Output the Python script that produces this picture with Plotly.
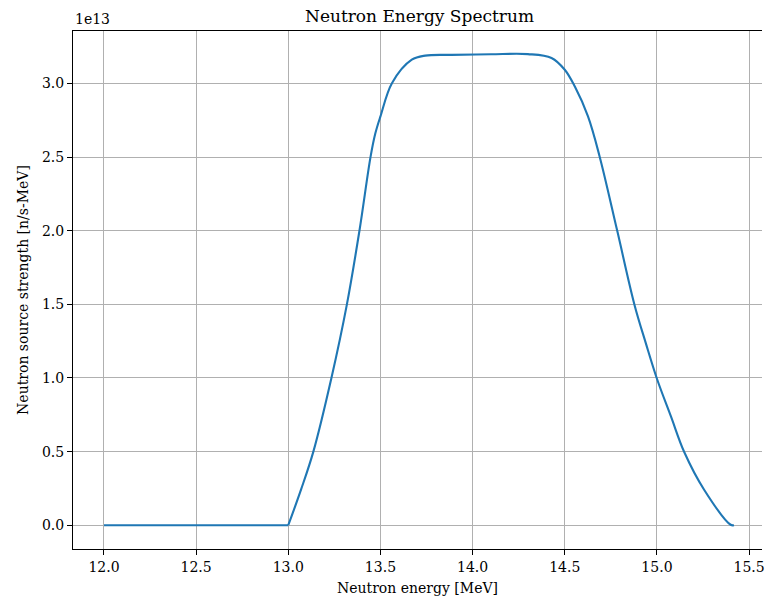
import plotly.graph_objects as go

# Neutron energy [MeV] - flat part
energy_flat = [12.0, 12.5, 13.0]
strength_flat = [0.0, 0.0, 0.0]

# Neutron energy [MeV] - peak part
energy = [13.0, 13.07, 13.136, 13.234, 13.318, 13.386, 13.446, 13.472, 13.5, 13.563,
          13.67, 13.743, 13.887, 14.1, 14.3, 14.428, 14.5, 14.554, 14.626,
          14.689, 14.784, 14.878, 14.94, 15.0, 15.076, 15.148, 15.256, 15.4, 15.418]
# Neutron source strength [1e13 n/s-MeV]
strength = [0.0, 0.245, 0.5, 1.0, 1.5, 2.0, 2.5, 2.66, 2.777, 3.004,
            3.162, 3.19, 3.195, 3.199, 3.2, 3.174, 3.094, 2.981, 2.777,
            2.505, 2.003, 1.498, 1.235, 0.995, 0.739, 0.497, 0.241, 0.003, 0.0]
scale = 1e13
y_ticks = [0.0, 0.5, 1.0, 1.5, 2.0, 2.5, 3.0]
x_ticks = [12.0, 12.5, 13.0, 13.5, 14.0, 14.5, 15.0, 15.5]

FONT = "DejaVu Serif"
LINE = dict(color="#1f77b4", width=2.1)

fig = go.Figure()
fig.add_trace(go.Scatter(
    x=energy_flat, y=[v * scale for v in strength_flat], mode="lines",
    line=LINE, showlegend=False))
fig.add_trace(go.Scatter(
    x=energy, y=[v * scale for v in strength], mode="lines",
    line=dict(**LINE, shape="spline", smoothing=1.0), showlegend=False))

fig.update_layout(
    width=765, height=597,
    margin=dict(l=73, r=0, t=31, b=48),
    paper_bgcolor="white", plot_bgcolor="white",
    font=dict(family=FONT, size=14, color="black"),
    xaxis=dict(
        range=[11.832, 15.570],
        tickvals=x_ticks, ticktext=[f"{t:.1f}" for t in x_ticks],
        ticklabeloverflow="allow",
        showgrid=True, gridcolor="#b0b0b0", gridwidth=1.1,
        zeroline=False,
        showline=True, linecolor="black", linewidth=1.1, mirror=True,
        ticks="outside", ticklen=5, tickwidth=1.1, tickcolor="black",
        title=dict(text="Neutron energy [MeV]", font=dict(size=14), standoff=9),
    ),
    yaxis=dict(
        range=[-0.1616 * scale, 3.357 * scale],
        tickvals=[t * scale for t in y_ticks], ticktext=[f"{t:.1f}" for t in y_ticks],
        showgrid=True, gridcolor="#b0b0b0", gridwidth=1.1,
        zeroline=False,
        showline=True, linecolor="black", linewidth=1.1, mirror=False,
        ticks="outside", ticklen=5, tickwidth=1.1, tickcolor="black",
        title=dict(text="Neutron source strength [n/s-MeV]", font=dict(size=14), standoff=9),
    ),
    annotations=[
        dict(text="Neutron Energy Spectrum", xref="paper", yref="paper",
             x=0.5026, y=1, xanchor="center", yanchor="bottom", yshift=3,
             showarrow=False, font=dict(family=FONT, size=17)),
        dict(text="1e13", xref="paper", yref="paper", x=0, y=1,
             xanchor="left", yanchor="bottom", yshift=2,
             showarrow=False, font=dict(family=FONT, size=14)),
    ],
)

fig.write_html("out.html")
